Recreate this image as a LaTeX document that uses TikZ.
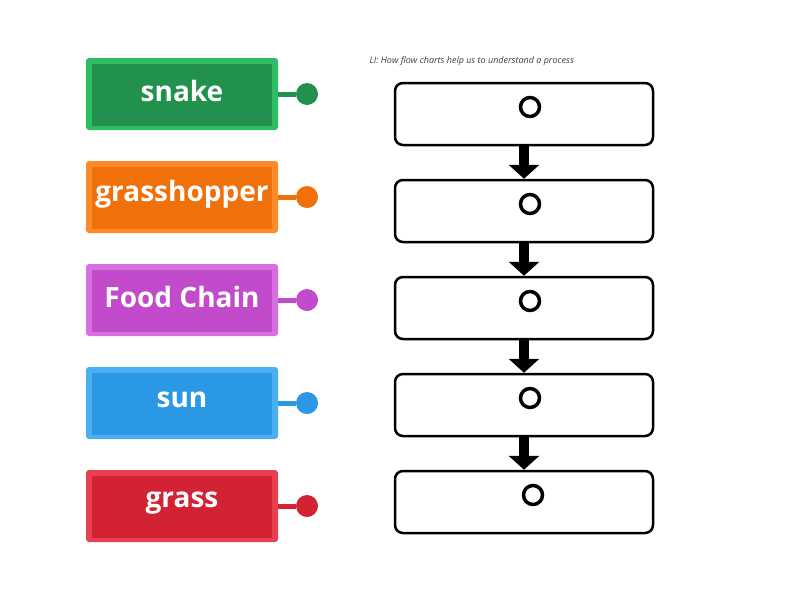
\documentclass[tikz,border=0pt]{standalone}
\usepackage{fontspec}
\setmainfont{Open Sans}
\usetikzlibrary{arrows.meta}
\definecolor{cg}{HTML}{23914E}\definecolor{cgl}{HTML}{2EBE62}
\definecolor{co}{HTML}{F0700A}\definecolor{col}{HTML}{FF8A2A}
\definecolor{cp}{HTML}{C24BCB}\definecolor{cpl}{HTML}{D770DE}
\definecolor{cb}{HTML}{2A98E4}\definecolor{cbl}{HTML}{4BB0F2}
\definecolor{cr}{HTML}{D22234}\definecolor{crl}{HTML}{E8404F}
\tikzset{x=1pt,y=-1pt,
 tile/.style={minimum width=192pt,minimum height=72pt,rounded corners=3pt,text=white,font=\bfseries\fontsize{28}{32}\selectfont},
 fbox/.style={draw,line width=2.5pt,rounded corners=8pt,minimum width=258pt,minimum height=62pt},
 ring/.style={draw,line width=3.5pt,circle,minimum size=19pt,inner sep=0pt},
 farrow/.style={line width=10pt,-{Triangle[width=30pt,length=14pt]}}}
\begin{document}
\begin{tikzpicture}
\useasboundingbox (0,0) rectangle (800,600);
\foreach \y/\t/\c/\l/\n in {94/snake/cg/cgl/a,197/grasshopper/co/col/b,300/Food Chain/cp/cpl/c,403/sun/cb/cbl/d,506/grass/cr/crl/e}{
 \fill[\l,rounded corners=3pt] (86,\y-36) rectangle (278,\y+36);
 \fill[\c] (92,\y-30) rectangle (272,\y+32);
 \node[tile] (t\n) at (182,\y-3) {\t};
 \node[circle,fill=\c,minimum size=22pt,inner sep=0pt] (d\n) at (307,\y) {};
 \draw[\c,line width=5pt] (278,\y) -- (d\n);
}
\node[anchor=west,font=\itshape\fontsize{9}{10}\selectfont,text=black!75] (title) at (366,61) {LI: How flow charts help us to understand a process};
\foreach \y/\n/\cx in {114/1/530,211/2/530,308/3/530,405/4/530,502/5/533}{
 \node[fbox] (f\n) at (524,\y) {};
 \node[ring] (r\n) at (\cx,\y-7) {};
}
\foreach \a/\b in {1/2,2/3,3/4,4/5}{\draw[farrow] (f\a.south) -- (f\b.north);}
\end{tikzpicture}
\end{document}
